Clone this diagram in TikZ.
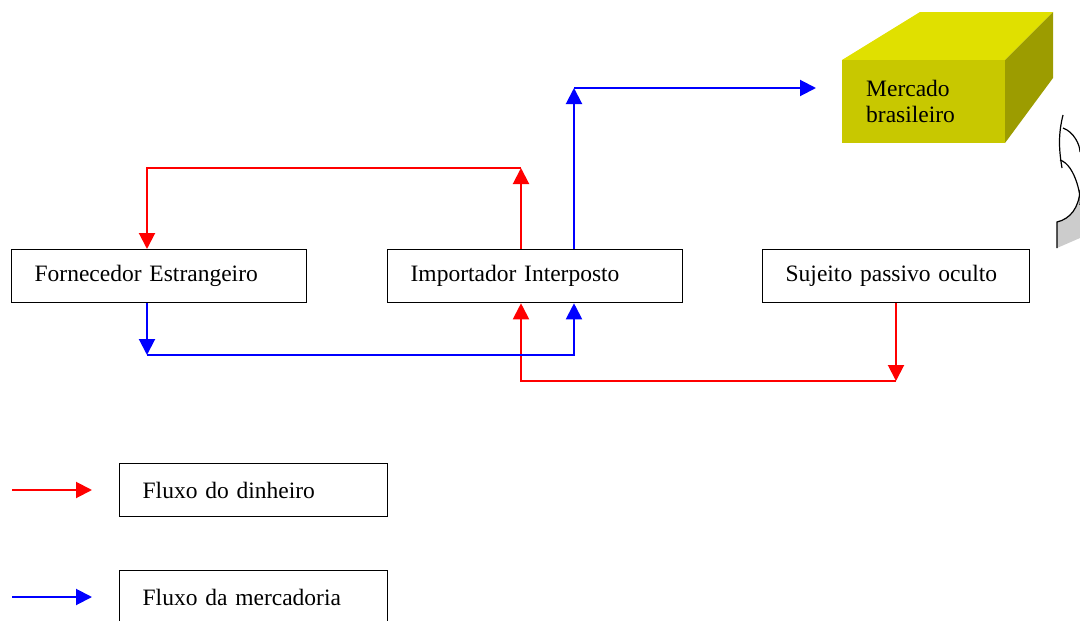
\documentclass[tikz,border=0pt]{standalone}
\usepackage{fontspec}
\setmainfont{Liberation Serif}
\usetikzlibrary{arrows.meta,calc}
\definecolor{cubetop}{RGB}{224,224,0}
\definecolor{cubefront}{RGB}{200,200,0}
\definecolor{cubeside}{RGB}{156,156,0}
\begin{document}
\begin{tikzpicture}[x=1pt,y=-1pt,
  box/.style={draw=black, line width=1.3pt, minimum height=53pt, inner xsep=23pt,
    inner ysep=0pt, align=left, anchor=north west, font=\fontsize{23.5}{28}\selectfont},
  money/.style={draw=red, line width=2pt, -{Triangle[length=16pt,width=16pt]}},
  goods/.style={draw=blue, line width=2pt, -{Triangle[length=16pt,width=16pt]}}]
\useasboundingbox (0,0) rectangle (1080,621);

% parties
\node[box, text width=249pt] (forn) at (11,249) {Fornecedor Estrangeiro};
\node[box, text width=249pt] (imp) at (387,249) {Importador Interposto};
\node[box, text width=221pt] (suj) at (762,249) {Sujeito passivo oculto};

% market block
\fill[cubetop] (842,60) -- (920,12) -- (1053,12) -- (1005,60) -- cycle;
\fill[cubeside] (1005,60) -- (1053,12) -- (1053,78) -- (1005,143) -- cycle;
\fill[cubefront] (842,60) rectangle (1005,143);
\node[align=left, anchor=north west, inner sep=0pt,
  font=\fontsize{23.5}{26}\selectfont] (mkt) at (866,80) {Mercado\\brasileiro};

% curved arrow at the right edge
\fill[gray!40] (1057,222) .. controls (1070,219) and (1079,208) .. (1080,190)
  -- (1080,238) -- (1057,248) -- cycle;
\draw[line width=1.2pt] (1057,248) -- (1057,222) .. controls (1070,219) and (1079,208) .. (1080,190);
\draw[line width=1.2pt] (1060,160) .. controls (1076,165) and (1082,200) .. (1080,205);
\draw[line width=1.2pt] (1063,128) .. controls (1074,132) and (1080,145) .. (1080,152);
\draw[line width=1.2pt] (1063,115) .. controls (1058,135) and (1059,150) .. (1062,168);

% corners of the flows
\coordinate (c1) at (521,168);
\coordinate (c2) at (147,168);
\coordinate (c3) at (896,381);
\coordinate (c4) at (521,381);
\coordinate (c5) at (147,355);
\coordinate (c6) at (574,355);
\coordinate (c7) at (574,88);
\coordinate (mktIn) at (816,88);

% money flow
\draw[money] (c1 |- imp.north) -- (c1);
\draw[money] (c1) -- (c2) -- (c2 |- forn.north);
\draw[money] (c3 |- suj.south) -- (c3);
\draw[money] (c3) -- (c4) -- (c4 |- imp.south);

% goods flow
\draw[goods] (c5 |- forn.south) -- (c5);
\draw[goods] (c5) -- (c6) -- (c6 |- imp.south);
\draw[goods] (c7 |- imp.north) -- (c7);
\draw[goods] (c7) -- (mktIn);

% legend
\node[box, text width=222pt] (leg1) at (119,463) {Fluxo do dinheiro};
\node[box, text width=222pt] (leg2) at (119,570) {Fluxo da mercadoria};
\coordinate (l1s) at (12,490);
\coordinate (l1e) at (92,490);
\coordinate (l2s) at (12,597);
\coordinate (l2e) at (92,597);
\draw[money] (l1s) -- (l1e);
\draw[goods] (l2s) -- (l2e);
\end{tikzpicture}
\end{document}
